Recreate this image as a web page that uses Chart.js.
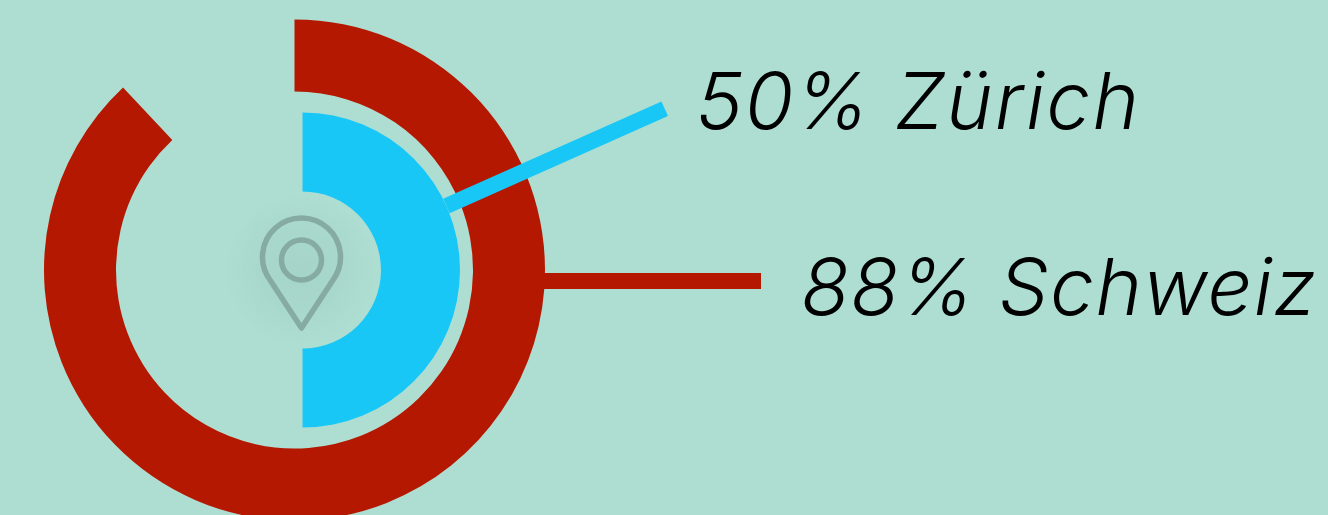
<!DOCTYPE html>
<html lang="de">
<head>
<meta charset="utf-8">
<title>Schweiz / Zürich</title>
<script src="https://cdn.jsdelivr.net/npm/chart.js@4"></script>
<style>
  html, body { margin: 0; padding: 0; width: 1328px; height: 515px; overflow: hidden; background: #aeded2; }
  #stage { position: relative; width: 1328px; height: 515px; overflow: hidden; }
  #stage canvas { position: absolute; left: 0; top: 0; }
  #glow { position: absolute; left: 225px; top: 195px; width: 150px; height: 150px;
          background: radial-gradient(circle closest-side, rgba(130,170,160,.2) 0%, rgba(130,170,160,.1) 60%, rgba(130,170,160,0) 100%); }
  #pin { position: absolute; left: 250px; top: 210px; filter: blur(.4px); }
  .label { position: absolute; font-family: Inter, sans-serif; font-style: italic; font-weight: 300;
           font-size: 79px; letter-spacing: 1.3px; line-height: 90px; color: #000; white-space: nowrap; overflow: hidden; }
  #label-zurich { left: 696px; top: 55px; height: 75px; letter-spacing: 1.9px; }
  #label-schweiz { left: 801px; top: 241px; }
</style>
</head>
<body>
<div id="stage">
  <canvas id="chart-schweiz" width="1328" height="540"></canvas>
  <div id="glow"></div>
  <canvas id="chart-zurich" width="1328" height="540"></canvas>
  <svg id="pin" width="104" height="130" viewBox="0 0 104 130">
    <path d="M51.5 118 L20 70 A39 39 0 1 1 83 70 Z" fill="none" stroke="#85aba2" stroke-width="5.5" stroke-linejoin="round"/>
    <circle cx="51.5" cy="50" r="20" fill="none" stroke="#85aba2" stroke-width="5.5"/>
  </svg>
  <div class="label" id="label-zurich"></div>
  <div class="label" id="label-schweiz"></div>
</div>
<script>
  const names = ['Schweiz', 'Zürich'];
  const schweizValues = [88, 12];
  const zurichValues = [50, 50];

  const RED = '#b51800';
  const BLUE = '#19c7f7';

  // ── LEADER LINES ──────────────────────────
  // starts on the outer edge of the first arc, so it follows the data
  function leaderPlugin(color, angleDeg, offsetY, length) {
    return {
      id: 'leader',
      afterDatasetsDraw(chart) {
        const arc = chart.getDatasetMeta(0).data[0];
        const a = angleDeg * Math.PI / 180;
        const x0 = arc.x + Math.cos(a) * arc.outerRadius - (offsetY ? 2 : 0);
        const y0 = arc.y - Math.sin(a) * arc.outerRadius + offsetY;
        const ctx = chart.ctx;
        ctx.save();
        ctx.strokeStyle = color;
        ctx.lineWidth = 16;
        ctx.beginPath();
        ctx.moveTo(x0, y0);
        ctx.lineTo(x0 + Math.cos(a) * length, y0 - Math.sin(a) * length);
        ctx.stroke();
        ctx.restore();
      }
    };
  }

  function makeRing(id, values, color, outer, inner, paddingRight, plugin) {
    return new Chart(document.getElementById(id), {
      type: 'doughnut',
      data: {
        labels: ['Anteil', 'Rest'],
        datasets: [{
          data: values,
          backgroundColor: [color, 'rgba(0,0,0,0)'],
          borderWidth: 0
        }]
      },
      options: {
        responsive: false,
        animation: false,
        radius: outer,
        cutout: (inner / outer * 100) + '%',
        layout: { padding: { right: paddingRight } },
        plugins: { legend: { display: false }, tooltip: { enabled: false } }
      },
      plugins: [plugin]
    });
  }

  makeRing('chart-schweiz', schweizValues, RED, 250.5, 178.5, 739, leaderPlugin(RED, 0, 11, 218));
  makeRing('chart-zurich', zurichValues, BLUE, 157.5, 78.5, 723, leaderPlugin(BLUE, 24, 0, 239));

  document.getElementById('label-schweiz').textContent = schweizValues[0] + '% ' + names[0];
  document.getElementById('label-zurich').textContent = zurichValues[0] + '% ' + names[1];
</script>
</body>
</html>
